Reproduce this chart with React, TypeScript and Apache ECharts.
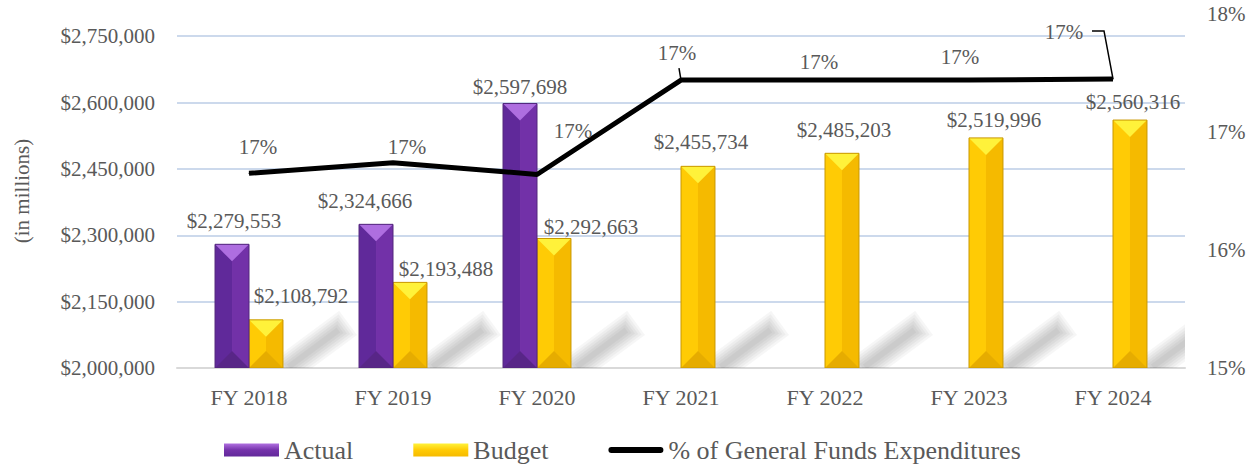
import React, { useEffect, useRef } from "react";
import * as echarts from "echarts";

const categories = ["FY 2018", "FY 2019", "FY 2020", "FY 2021", "FY 2022", "FY 2023", "FY 2024"];
const actualValues: (number | null)[] = [2279553, 2324666, 2597698, null, null, null, null];
const budgetValues: number[] = [2108792, 2193488, 2292663, 2455734, 2485203, 2519996, 2560316];
const pctValues: number[] = [16.65, 16.74, 16.64, 17.44, 17.44, 17.44, 17.45];

const LEFT_MIN = 2000000;
const LEFT_MAX = 2800000;
const LEFT_STEP = 150000;
const RIGHT_MIN = 15;
const RIGHT_MAX = 18;

// label placement (style only)
const actualLabelOffsets = [[2, -23], [-11, -23], [0, -17], [0, -20], [0, -20], [0, -20], [0, -20]];
const budgetLabelOffsets = [[35, -24], [36, -13], [37, -11], [3, -24], [2, -23], [8, -18], [3, -18]];
const pctLabelOffsets = [[9, -26], [14, -16], [36, -43], [-4, -27], [-6, -18], [-9, -23], [-49, -47]];

const FONT = '"Liberation Serif", "Times New Roman", serif';
const TEXT = "#595959";

const purple = { left: "#60299A", right: "#7231A8", top: "#AE6EE0", bottom: "#582687", edge: "#53277C" };
const gold = { left: "#FFCB05", right: "#F5BA00", top: "#FFF23A", bottom: "#E6AC00", edge: "#C99800" };

function fmtMoney(v: number) {
  return "$" + Math.round(v).toLocaleString("en-US");
}

function shadowLayers(x1: number, yb: number) {
  const ux0 = 1, uy0 = -0.74;
  const un = Math.hypot(ux0, uy0);
  const ux = ux0 / un, uy = uy0 / un;
  const nx = -uy, ny = ux;
  const px = x1 - 4, py = yb + 6;
  const L = 86, W = 30, d = 2.4;
  const layers: any[] = [];
  for (let k = 0; k < 6; k++) {
    const s = k * d;
    const ax = px + ux * s, ay = py + uy * s;
    const l = L - 2 * s;
    const hw = (W - 2 * s) / 2;
    const bx = ax + ux * l, by = ay + uy * l;
    layers.push({
      type: "polygon",
      silent: true,
      shape: {
        points: [
          [ax + nx * hw, ay + ny * hw],
          [ax - nx * hw, ay - ny * hw],
          [bx - nx * hw, by - ny * hw],
          [bx + nx * hw, by + ny * hw],
        ],
      },
      style: { fill: "rgba(0,0,0,0.037)" },
    });
  }
  return layers;
}

function makeRender(side: "left" | "right", c: typeof purple, offsets: number[][], withShadow: boolean) {
  return (params: any, api: any) => {
    const idx = api.value(0);
    const v = api.value(1);
    const top = api.coord([idx, v]);
    const base = api.coord([idx, LEFT_MIN]);
    const band = api.size([1, 0])[0];
    const w = band * 0.236;
    const x0 = side === "left" ? top[0] - w : top[0];
    const x1 = x0 + w;
    const yt = top[1];
    const yb = base[1];
    const h = yb - yt;
    const t = Math.min(w / 2, h / 2);
    const cx = (x0 + x1) / 2;
    const off = offsets[idx] || [0, -20];
    return {
      type: "group",
      children: [
        ...(withShadow ? shadowLayers(x1, yb) : []),
        { type: "rect", shape: { x: x0, y: yt, width: w / 2, height: h }, style: { fill: c.left } },
        { type: "rect", shape: { x: cx, y: yt, width: w / 2, height: h }, style: { fill: c.right } },
        { type: "polygon", shape: { points: [[x0, yt], [x1, yt], [cx, yt + t]] }, style: { fill: c.top } },
        { type: "polygon", shape: { points: [[x0, yb], [x1, yb], [cx, yb - t]] }, style: { fill: c.bottom } },
        {
          type: "rect",
          shape: { x: x0, y: yt, width: w, height: h },
          style: { fill: "none", stroke: c.edge, lineWidth: 1 },
        },
        {
          type: "text",
          style: {
            text: fmtMoney(v),
            x: cx + off[0],
            y: yt + off[1],
            align: "center",
            verticalAlign: "middle",
            fill: TEXT,
            font: `21px ${FONT}`,
          },
        },
      ],
    };
  };
}

const LINE_ICON = "path://M0,0L0,0.01M3,3.5L52,3.5A3,3,0,0,1,52,9.5L3,9.5A3,3,0,0,1,3,3.5ZM0,13L0,12.99";

export default function App() {
  const ref = useRef<HTMLDivElement>(null);
  useEffect(() => {
    if (!ref.current) return;
    const chart = echarts.init(ref.current, undefined, { renderer: "svg" });
    const actualData = actualValues
      .map((v, i) => (v == null ? null : [i, v]))
      .filter((d) => d != null);
    const budgetData = budgetValues.map((v, i) => [i, v]);
    chart.setOption({
      animation: false,
      textStyle: { fontFamily: FONT },
      grid: { left: 177, right: 72, top: 14, bottom: 99, containLabel: false },
      legend: {
        left: 219,
        top: 432,
        itemWidth: 55,
        itemHeight: 13,
        itemGap: 60,
        textStyle: { fontSize: 26, lineHeight: 26, color: TEXT, fontFamily: FONT },
        data: [
          { name: "Actual", icon: "rect" },
          { name: "Budget", icon: "rect" },
          { name: "% of General Funds Expenditures", icon: LINE_ICON, itemStyle: { color: "#000" } },
        ],
      },
      xAxis: {
        type: "category",
        data: categories,
        axisLine: { show: true, lineStyle: { color: "#D9D9D9", width: 2 } },
        axisTick: { show: false },
        axisLabel: { color: TEXT, fontSize: 22, margin: 18, fontFamily: FONT },
      },
      yAxis: [
        {
          type: "value",
          min: LEFT_MIN,
          max: LEFT_MAX,
          interval: LEFT_STEP,
          name: "(in millions)",
          nameLocation: "middle",
          nameRotate: 90,
          nameGap: 145,
          nameTextStyle: { color: TEXT, fontSize: 21, fontFamily: FONT },
          axisLine: { show: false },
          axisTick: { show: false },
          axisLabel: {
            color: TEXT,
            fontSize: 21,
            margin: 22,
            fontFamily: FONT,
            showMaxLabel: false,
            formatter: (v: number) => fmtMoney(v),
          },
          splitLine: {
            show: true,
            showMinLine: false,
            showMaxLine: false,
            lineStyle: { color: "#CCD9EC", width: 2 },
          },
        },
        {
          type: "value",
          min: RIGHT_MIN,
          max: RIGHT_MAX,
          interval: 1,
          position: "right",
          axisLine: { show: false },
          axisTick: { show: false },
          splitLine: { show: false },
          axisLabel: {
            color: TEXT,
            fontSize: 21,
            margin: 22,
            fontFamily: FONT,
            formatter: (v: number) => `${v}%`,
          },
        },
      ],
      series: [
        {
          name: "Actual",
          type: "custom",
          xAxisIndex: 0,
          yAxisIndex: 0,
          clip: true,
          encode: { x: 0, y: 1 },
          itemStyle: {
            color: new echarts.graphic.LinearGradient(0, 0, 0, 1, [
              { offset: 0, color: "#B070E0" },
              { offset: 0.5, color: "#7532AB" },
              { offset: 1, color: "#62299A" },
            ]),
          },
          renderItem: makeRender("left", purple, actualLabelOffsets, false),
          data: actualData,
          z: 3,
        },
        {
          name: "Budget",
          type: "custom",
          xAxisIndex: 0,
          yAxisIndex: 0,
          clip: true,
          encode: { x: 0, y: 1 },
          itemStyle: {
            color: new echarts.graphic.LinearGradient(0, 0, 0, 1, [
              { offset: 0, color: "#FFF23A" },
              { offset: 0.5, color: "#FFCB05" },
              { offset: 1, color: "#F5BA00" },
            ]),
          },
          renderItem: makeRender("right", gold, budgetLabelOffsets, true),
          data: budgetData,
          z: 2,
        },
        {
          name: "% of General Funds Expenditures",
          type: "line",
          yAxisIndex: 1,
          data: pctValues.map((v, i) => ({
            value: v,
            label: { offset: pctLabelOffsets[i] },
          })),
          symbol: "circle",
          symbolSize: 1,
          showSymbol: true,
          itemStyle: { color: "#000" },
          lineStyle: { color: "#000", width: 5 },
          label: {
            show: true,
            position: "inside",
            color: TEXT,
            fontSize: 21,
            fontFamily: FONT,
            formatter: (p: any) => `${Math.round(p.value)}%`,
          },
          z: 6,
        },
        {
          name: "leaders",
          type: "custom",
          yAxisIndex: 1,
          encode: { x: 0, y: 1 },
          silent: true,
          data: pctValues.map((v, i) => [i, v]),
          renderItem: (params: any, api: any) => {
            const idx = api.value(0);
            const p = api.coord([idx, api.value(1)]);
            if (idx === 3) {
              return {
                type: "polyline",
                shape: { points: [[p[0] - 2, p[1] - 12], [p[0], p[1]]] },
                style: { stroke: "#000", lineWidth: 1.5, fill: "none" },
              };
            }
            if (idx === 6) {
              return {
                type: "polyline",
                shape: { points: [[p[0] - 21, p[1] - 48], [p[0] - 9, p[1] - 48], [p[0], p[1]]] },
                style: { stroke: "#000", lineWidth: 1.5, fill: "none" },
              };
            }
            return { type: "group", children: [] };
          },
          z: 5,
        },
      ],
    });
    return () => chart.dispose();
  }, []);
  return (
    <div
      ref={ref}
      style={{ position: "fixed", left: 0, top: 0, width: 1257, height: 467, background: "#fff" }}
    />
  );
}
